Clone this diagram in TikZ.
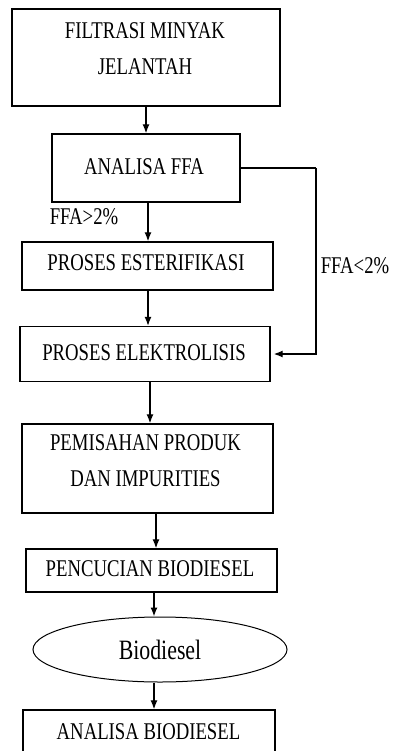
\documentclass[tikz,border=0pt]{standalone}
\usepackage{fontspec}
\setmainfont[FakeStretch=0.78]{Liberation Serif}
\usetikzlibrary{arrows.meta,shapes.geometric}
\begin{document}
\begin{tikzpicture}[x=1pt,y=-1pt,
  box/.style={draw,line width=1.4pt,rectangle,inner sep=0pt},
  oval/.style={draw,line width=1pt,ellipse,inner sep=0pt,minimum width=254pt,minimum height=65pt},
  lbl/.style={inner sep=0pt,align=center,font=\fontsize{24}{36}\selectfont},
  arr/.style={line width=1.3pt,-{Latex[length=9pt,width=7pt]}}]
\useasboundingbox (0,0) rectangle (393,751);
\fill[white] (0,0) rectangle (393,751);
\clip (0,0) rectangle (393,751);
% boxes
\node[box,minimum width=268pt,minimum height=97pt] (b1) at (146,57.5) {};
\node[box,minimum width=188pt,minimum height=68pt] (b2) at (146,168) {};
\node[box,minimum width=251pt,minimum height=48pt] (b3) at (147.5,266) {};
\node[box,minimum width=250pt,minimum height=55pt] (b4) at (145,354) {};
\node[box,minimum width=251pt,minimum height=89pt] (b5) at (147.5,468.5) {};
\node[box,minimum width=251pt,minimum height=43pt] (b6) at (151.5,570.5) {};
\node[oval] (e1) at (160,649.5) {};
\node[box,minimum width=252pt,minimum height=60pt] (b7) at (149,740) {};
% texts
\node[lbl] (t1) at (145,48.5) {FILTRASI MINYAK\\JELANTAH};
\node[lbl] (t2) at (144,167) {ANALISA FFA};
\node[lbl] (t3) at (146,263) {PROSES ESTERIFIKASI};
\node[lbl] (t4) at (144,353) {PROSES ELEKTROLISIS};
\node[lbl] (t5) at (145.5,460.5) {PEMISAHAN PRODUK\\DAN IMPURITIES};
\node[lbl] (t6) at (150,569) {PENCUCIAN BIODIESEL};
\node[inner sep=0pt,font=\fontsize{28}{32}\selectfont] (t7) at (160,650) {Biodiesel};
\node[lbl] (t8) at (148.5,732) {ANALISA BIODIESEL};
\node[lbl] (l1) at (84,217) {FFA>2\%};
\node[lbl] (l2) at (355,266) {FFA<2\%};
% connectors
\coordinate (rt) at (316,168);
\draw[arr] (b1.south) -- (b2.north);
\draw[arr] ([xshift=2pt]b2.south) -- ([xshift=2pt]b2.south |- b3.north);
\draw[arr] ([xshift=0.5pt]b3.south) -- ([xshift=0.5pt]b3.south |- b4.north);
\draw[arr] ([xshift=5pt]b4.south) -- ([xshift=5pt]b4.south |- b5.north);
\draw[arr] ([xshift=8.5pt]b5.south) -- ([xshift=8.5pt]b5.south |- b6.north);
\draw[arr] ([xshift=2.5pt]b6.south) -- ([xshift=2.5pt]b6.south |- e1.north);
\draw[arr] ([xshift=-6pt]e1.south) -- ([xshift=-6pt]e1.south |- b7.north);
\draw[line width=1.3pt] (b2.east) -- (rt);
\draw[arr] (rt) -- (rt |- b4.east) -- ([xshift=3pt]b4.east);
\end{tikzpicture}
\end{document}
